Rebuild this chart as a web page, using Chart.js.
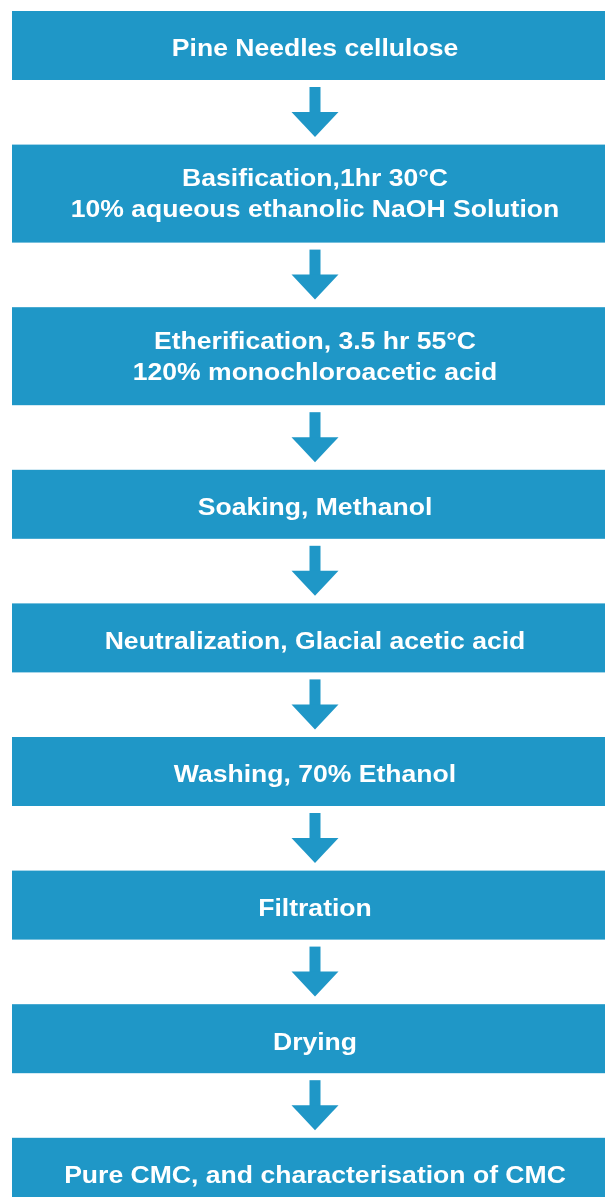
<!DOCTYPE html>
<html>
<head>
<meta charset="utf-8">
<script src="https://cdn.jsdelivr.net/npm/chart.js@4"></script>
<style>
  html, body { margin: 0; padding: 0; background: #fff; font-family: "Liberation Sans", Arial, sans-serif; }
  #wrap { width: 605px; height: 1197px; }
</style>
</head>
<body>
<div id="wrap"><canvas id="flow" width="605" height="1197"></canvas></div>
<script>
// process steps, one entry per box, lines split with |
const steps = [
  'Pine Needles cellulose',
  'Basification,1hr 30°C|10% aqueous ethanolic NaOH Solution',
  'Etherification, 3.5 hr 55°C|120% monochloroacetic acid',
  'Soaking, Methanol',
  'Neutralization, Glacial acetic acid',
  'Washing, 70% Ethanol',
  'Filtration',
  'Drying',
  'Pure CMC, and characterisation of CMC'
];

const boxColor = '#1F97C7';

// layout in chart units (1 unit = 1 px)
const firstTop = 11;
const gap = 64.6;
const oneLineH = 69;
const lineStep = 29;
const boxLeft = 12;
const boxRight = 618;
const midX = 315;
const textStretch = 1.13; // the source picture is a bit wider than tall

function layout() {
  let y = firstTop;
  return steps.map(s => {
    const lines = s.split('|');
    const h = oneLineH + (lines.length - 1) * lineStep;
    const b = { top: y, bottom: y + h, lines: lines };
    y += h + gap;
    return b;
  });
}

const flowPlugin = {
  id: 'flow',
  afterDatasetsDraw(chart) {
    const ctx = chart.ctx;
    const xs = chart.scales.x, ys = chart.scales.y;
    const boxes = layout();
    ctx.save();
    boxes.forEach((b, i) => {
      const x0 = xs.getPixelForValue(boxLeft), x1 = xs.getPixelForValue(boxRight);
      const y0 = ys.getPixelForValue(b.top), y1 = ys.getPixelForValue(b.bottom);
      ctx.fillStyle = boxColor;
      ctx.fillRect(x0, y0, x1 - x0, y1 - y0);

      ctx.fillStyle = '#fff';
      ctx.font = 'bold 23.5px "Liberation Sans", Arial, sans-serif';
      ctx.textAlign = 'center';
      ctx.textBaseline = 'alphabetic';
      const n = b.lines.length;
      const cy = (b.top + b.bottom) / 2 + (n === 1 ? 10.8 : 8.2);
      b.lines.forEach((t, k) => {
        const ty = cy + (k - (n - 1) / 2) * 31;
        ctx.save();
        ctx.translate(xs.getPixelForValue(midX), ys.getPixelForValue(ty));
        ctx.scale(textStretch, 1);
        ctx.fillText(t, 0, 0);
        ctx.restore();
      });

      // arrow down to the next box
      if (i < boxes.length - 1) {
        const sTop = b.bottom + 7, hTop = b.bottom + 32, tip = b.bottom + 57;
        ctx.fillStyle = boxColor;
        ctx.fillRect(xs.getPixelForValue(midX - 5.5), ys.getPixelForValue(sTop), 11, hTop - sTop + 1);
        ctx.beginPath();
        ctx.moveTo(xs.getPixelForValue(midX - 23.5), ys.getPixelForValue(hTop));
        ctx.lineTo(xs.getPixelForValue(midX + 23.5), ys.getPixelForValue(hTop));
        ctx.lineTo(xs.getPixelForValue(midX), ys.getPixelForValue(tip));
        ctx.closePath();
        ctx.fill();
      }
    });
    ctx.restore();
  }
};

new Chart(document.getElementById('flow'), {
  type: 'scatter',
  data: { datasets: [{ data: [], pointRadius: 0 }] },
  options: {
    responsive: false,
    animation: false,
    layout: { padding: 0 },
    plugins: { legend: { display: false }, tooltip: { enabled: false } },
    scales: {
      x: { type: 'linear', min: 0, max: 605, display: false },
      y: { type: 'linear', min: 0, max: 1197, reverse: true, display: false }
    }
  },
  plugins: [flowPlugin]
});
</script>
</body>
</html>
